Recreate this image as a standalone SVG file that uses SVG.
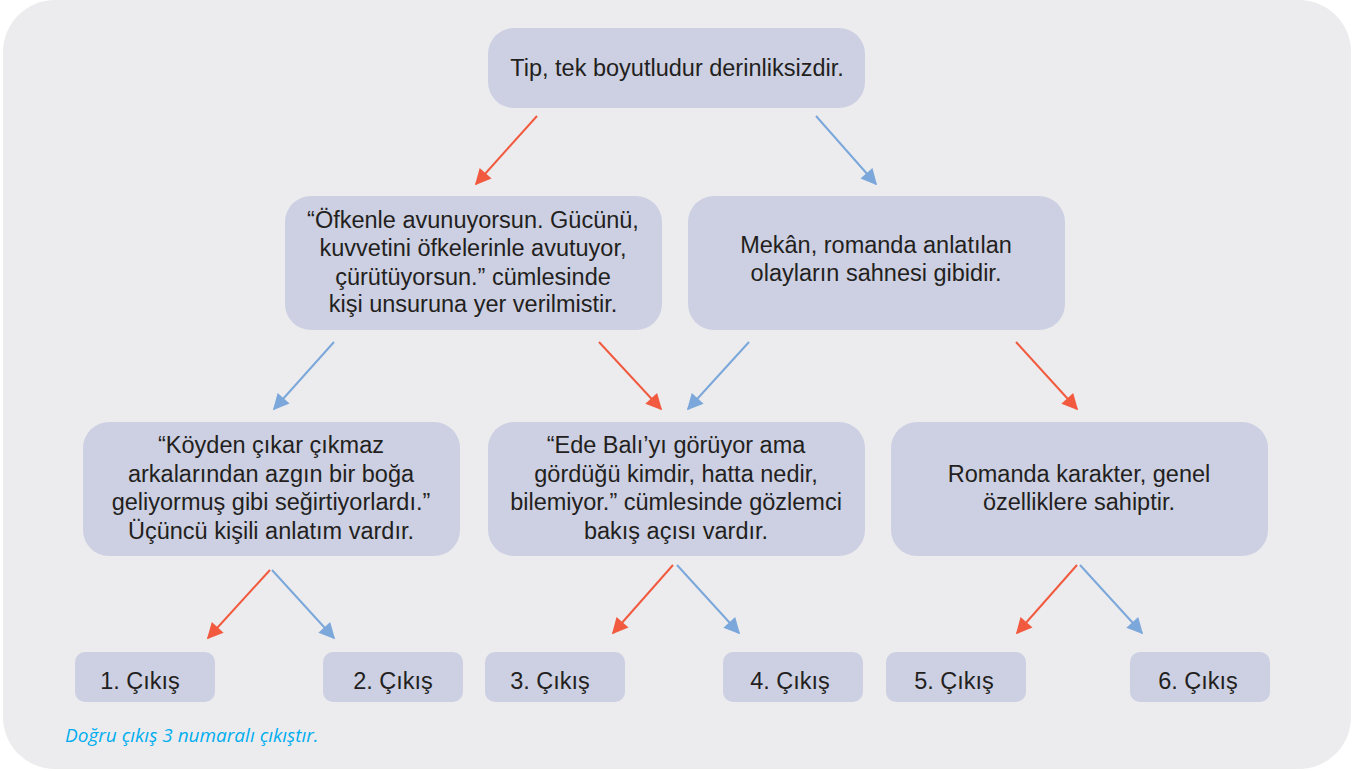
<svg xmlns="http://www.w3.org/2000/svg" width="1359" height="771" viewBox="0 0 1359 771">
<defs>
<style>
.n{fill:#cdd0e2}
.t{font-family:"Liberation Sans",Arial,sans-serif;font-size:23.5px;fill:#231f20;text-anchor:middle}
.r{stroke:#f15a3f;stroke-width:2;fill:none}
.b{stroke:#7ba7db;stroke-width:2;fill:none}
</style>
<marker id="mr" viewBox="0 0 10 10" refX="9" refY="5" markerWidth="18" markerHeight="16" markerUnits="userSpaceOnUse" orient="auto"><path d="M0,0 L10,5 L0,10 z" fill="#f15a3f"/></marker>
<marker id="mb" viewBox="0 0 10 10" refX="9" refY="5" markerWidth="18" markerHeight="16" markerUnits="userSpaceOnUse" orient="auto"><path d="M0,0 L10,5 L0,10 z" fill="#7ba7db"/></marker>
</defs>
<rect width="1359" height="771" fill="#ffffff"/>
<rect x="3" y="0" width="1348" height="769" rx="52" fill="#ececee"/>
<g id="connectors">
<line class="r" x1="537" y1="116" x2="476" y2="184" marker-end="url(#mr)"/>
<line class="b" x1="816" y1="116" x2="876" y2="184" marker-end="url(#mb)"/>
<line class="b" x1="334" y1="342" x2="274" y2="409" marker-end="url(#mb)"/>
<line class="r" x1="599" y1="342" x2="661" y2="409" marker-end="url(#mr)"/>
<line class="b" x1="749" y1="342" x2="688" y2="409" marker-end="url(#mb)"/>
<line class="r" x1="1016" y1="342" x2="1077" y2="409" marker-end="url(#mr)"/>
<line class="r" x1="270" y1="570" x2="208" y2="638" marker-end="url(#mr)"/>
<line class="b" x1="272" y1="570" x2="334" y2="638" marker-end="url(#mb)"/>
<line class="r" x1="673" y1="565" x2="613" y2="633" marker-end="url(#mr)"/>
<line class="b" x1="677" y1="565" x2="739" y2="633" marker-end="url(#mb)"/>
<line class="r" x1="1077" y1="565" x2="1017" y2="633" marker-end="url(#mr)"/>
<line class="b" x1="1080" y1="565" x2="1142" y2="633" marker-end="url(#mb)"/>
</g>
<g id="n1"><rect class="n" x="488" y="28" width="377" height="80" rx="26"/><text class="t" x="677" y="76">Tip, tek boyutludur derinliksizdir.</text></g>
<g id="n2"><rect class="n" x="285" y="196" width="377" height="134" rx="26"/>
<text class="t" x="473" y="228">“Öfkenle avunuyorsun. Gücünü,</text>
<text class="t" x="473" y="256">kuvvetini öfkelerinle avutuyor,</text>
<text class="t" x="473" y="285">çürütüyorsun.” cümlesinde</text>
<text class="t" x="473" y="312">kişi unsuruna yer verilmistir.</text></g>
<g id="n3"><rect class="n" x="688" y="196" width="377" height="134" rx="26"/>
<text class="t" x="876" y="253">Mekân, romanda anlatılan</text>
<text class="t" x="876" y="281">olayların sahnesi gibidir.</text></g>
<g id="n4"><rect class="n" x="83" y="422" width="377" height="134" rx="26"/>
<text class="t" x="271" y="453">“Köyden çıkar çıkmaz</text>
<text class="t" x="271" y="482">arkalarından azgın bir boğa</text>
<text class="t" x="271" y="510">geliyormuş gibi seğirtiyorlardı.”</text>
<text class="t" x="271" y="539">Üçüncü kişili anlatım vardır.</text></g>
<g id="n5"><rect class="n" x="488" y="422" width="377" height="134" rx="26"/>
<text class="t" x="676" y="453">“Ede Balı’yı görüyor ama</text>
<text class="t" x="676" y="482">gördüğü kimdir, hatta nedir,</text>
<text class="t" x="676" y="510">bilemiyor.” cümlesinde gözlemci</text>
<text class="t" x="676" y="539">bakış açısı vardır.</text></g>
<g id="n6"><rect class="n" x="891" y="422" width="377" height="134" rx="26"/>
<text class="t" x="1079" y="482">Romanda karakter, genel</text>
<text class="t" x="1079" y="510">özelliklere sahiptir.</text></g>
<g id="o1"><rect class="n" x="75" y="652" width="140" height="50" rx="10"/><text class="t" x="140" y="689">1. Çıkış</text></g>
<g id="o2"><rect class="n" x="323" y="652" width="140" height="50" rx="10"/><text class="t" x="393" y="689">2. Çıkış</text></g>
<g id="o3"><rect class="n" x="485" y="652" width="140" height="50" rx="10"/><text class="t" x="550" y="689">3. Çıkış</text></g>
<g id="o4"><rect class="n" x="723" y="652" width="140" height="50" rx="10"/><text class="t" x="790" y="689">4. Çıkış</text></g>
<g id="o5"><rect class="n" x="886" y="652" width="140" height="50" rx="10"/><text class="t" x="954" y="689">5. Çıkış</text></g>
<g id="o6"><rect class="n" x="1130" y="652" width="140" height="50" rx="10"/><text class="t" x="1198" y="689">6. Çıkış</text></g>
<text x="65" y="742" font-family="'Open Sans','Noto Sans',sans-serif" font-style="italic" font-size="19" fill="#00aeef">Doğru çıkış 3 numaralı çıkıştır.</text>
</svg>
